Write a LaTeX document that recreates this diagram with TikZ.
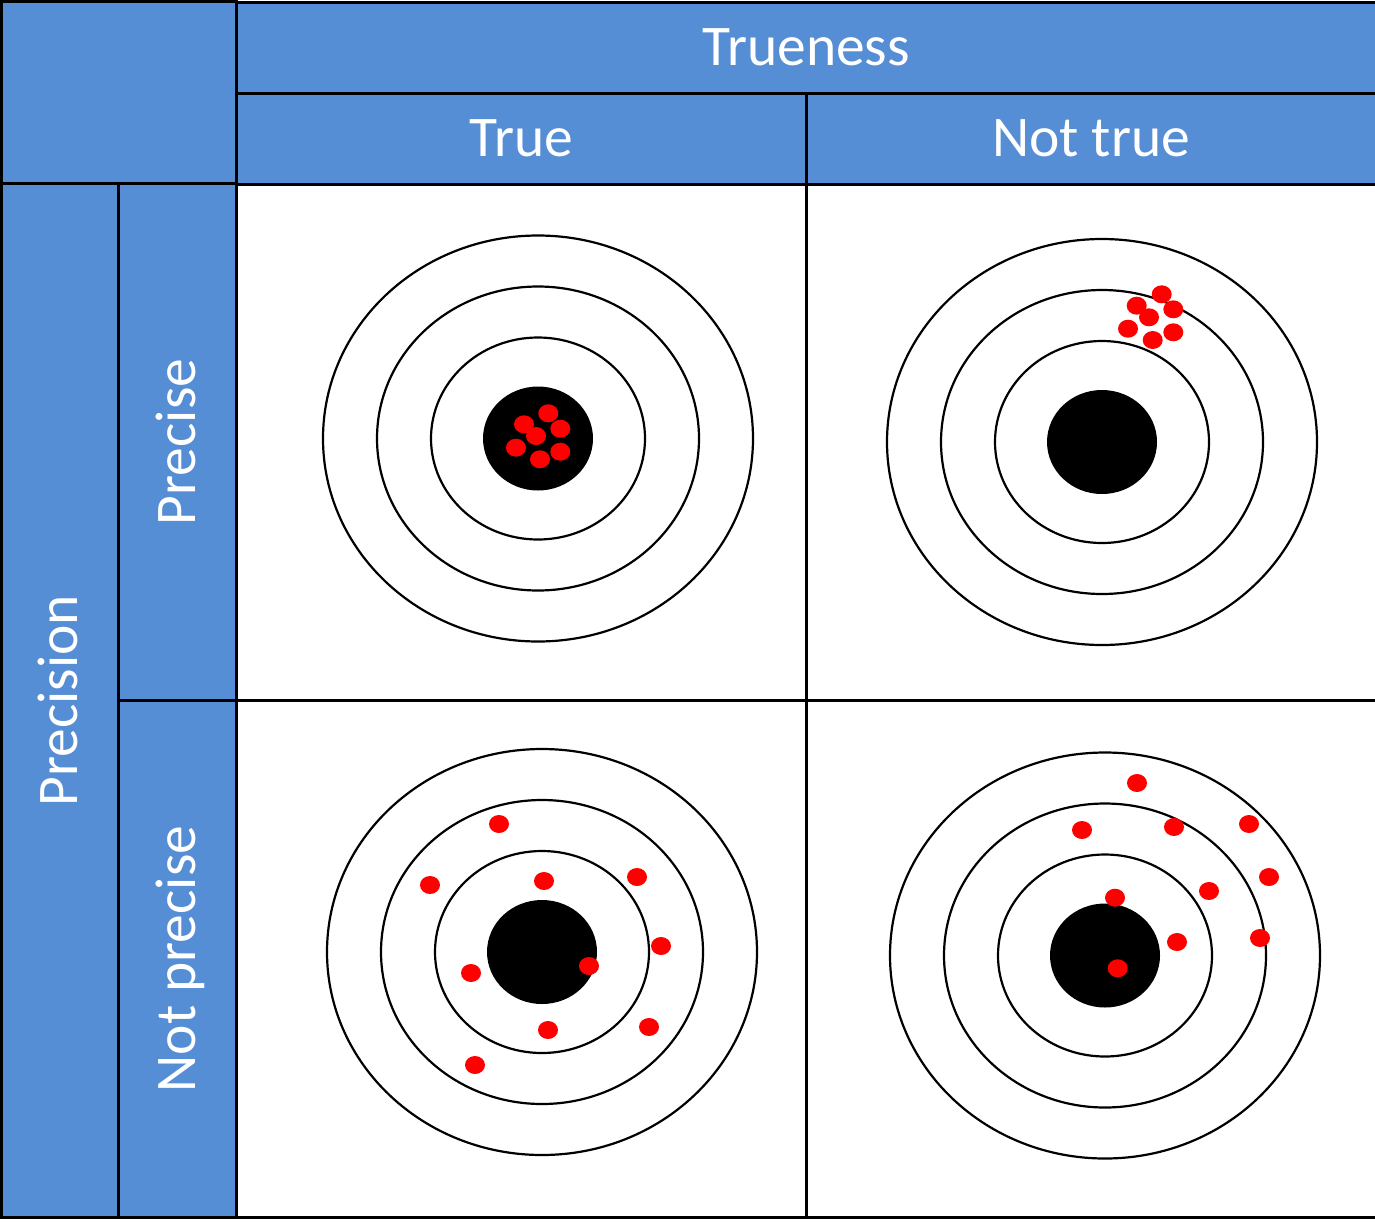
\documentclass[tikz,border=0pt]{standalone}
\usepackage{fontspec}
\setmainfont{Carlito}
\definecolor{hdrblue}{HTML}{558ED5}
\definecolor{dotred}{HTML}{FF0000}
\begin{document}
\begin{tikzpicture}[x=1pt,y=-1pt,
  cell/.style={draw=black, line width=3pt, rectangle, inner sep=0pt, outer sep=0pt, fill=white},
  hdr/.style={cell, fill=hdrblue, text=white, font=\fontsize{57.5}{62}\selectfont, text height=36.4pt, text depth=0pt},
  ring/.style={draw=black, line width=2.2pt},
  bull/.style={fill=black},
  hit/.style={fill=dotred}]
\useasboundingbox (0,0) rectangle (1375,1221);
% body cells
\node[cell, minimum width=569.5pt, minimum height=517pt] (c11) at (521.25,442) {};
\node[cell, minimum width=570pt, minimum height=517pt] (c12) at (1091,442) {};
\node[cell, minimum width=569.5pt, minimum height=517pt] (c21) at (521.25,959) {};
\node[cell, minimum width=570pt, minimum height=517pt] (c22) at (1091,959) {};
% header cells
\node[hdr, minimum width=235.3pt, minimum height=182pt] (corner) at (118.85,92.5) {};
\node[hdr, minimum width=1139.5pt, minimum height=91pt] (trueness) at (806.25,47.5) {Trueness};
\node[hdr, minimum width=569.5pt, minimum height=91pt] (true) at (521.25,138.5) {True};
\node[hdr, minimum width=570pt, minimum height=91pt] (nottrue) at (1091,138.5) {Not true};
\node[hdr, rotate=90, minimum width=1034pt, minimum height=116.8pt] (precision) at (59.6,700.5) {Precision};
\node[hdr, rotate=90, minimum width=517pt, minimum height=118.5pt] (precise) at (177.25,442) {Precise};
\node[hdr, rotate=90, minimum width=517pt, minimum height=118.5pt] (notprecise) at (177.25,959) {Not precise};
% targets
\foreach \cx/\cy [count=\i] in {538/438.5, 1102/442, 542/952, 1105/955.5} {
  \coordinate (t\i) at (\cx,\cy);
  \draw[ring] (t\i) ellipse [x radius=215pt, y radius=203pt];
  \draw[ring] (t\i) ellipse [x radius=161pt, y radius=152pt];
  \draw[ring] (t\i) ellipse [x radius=107pt, y radius=101pt];
  \fill[bull] (t\i) ellipse [x radius=55pt, y radius=52pt];
}
% hits
\foreach \hx/\hy in {524/424.3, 548.3/413.3, 560.3/428.7, 536/436, 516/447.7, 560.3/451.7, 540/459.3,
  1161.7/294.3, 1136.7/305.7, 1173.3/309.3, 1149/317.3, 1128/328.7, 1173.3/332.3, 1152.7/340,
  499/824, 430/885, 544/881, 637/877, 661/946, 471/973, 589/966, 548/1030, 649/1027, 475/1065,
  1137/783, 1082/830, 1174/827, 1249/824, 1269/877, 1209/891, 1115/897.7, 1177/942, 1260/938, 1117.7/968.3}
  \fill[hit] (\hx,\hy) ellipse [x radius=10pt, y radius=9pt];
\end{tikzpicture}
\end{document}
